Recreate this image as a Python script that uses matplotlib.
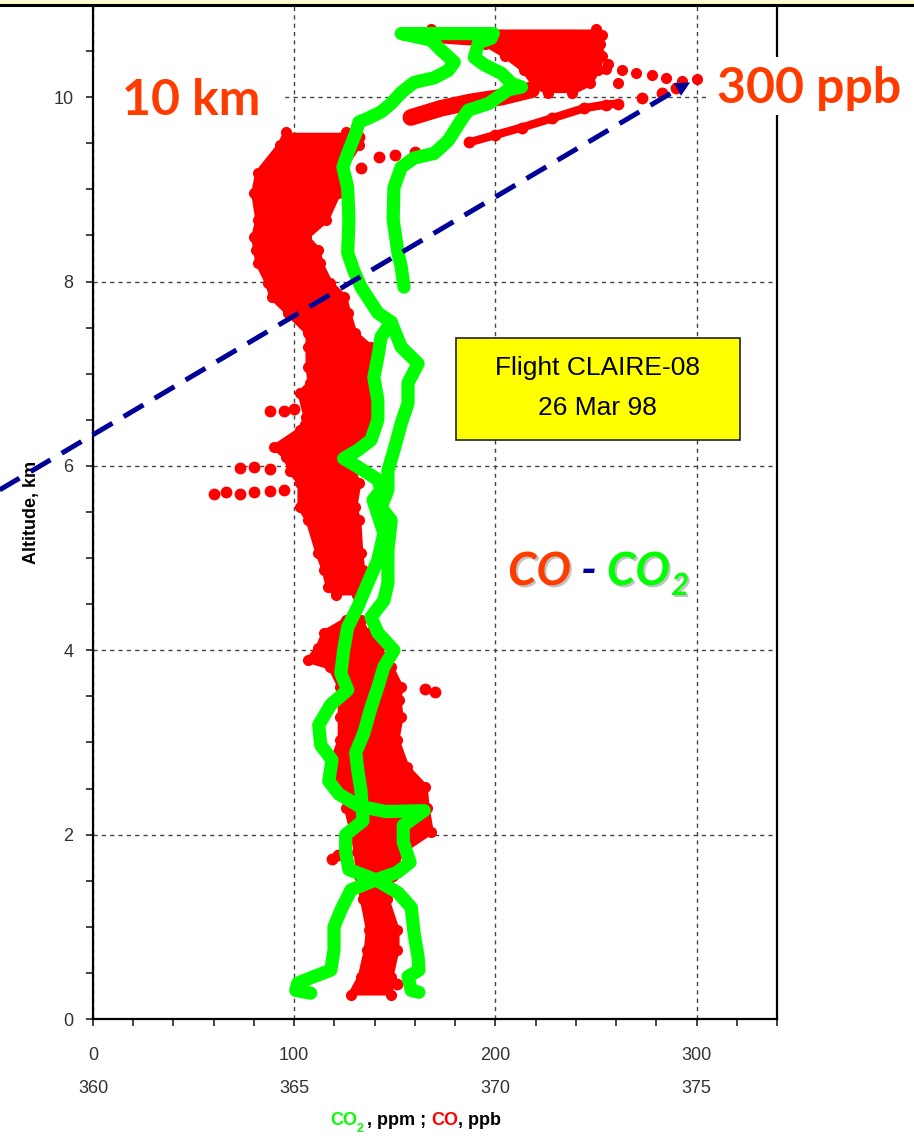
import matplotlib
matplotlib.use("Agg")
import matplotlib.pyplot as plt
from matplotlib.patches import Rectangle
from matplotlib.lines import Line2D
from matplotlib.ticker import MultipleLocator, FixedLocator
from matplotlib import patheffects as pe

# ---------------- data ----------------
# CO (ppb): dense red band, upper part (altitude km, left edge, right edge)
co_up_alt = [9.62, 9.48, 9.18, 8.96, 8.67, 8.48, 8.34, 8.20, 7.98, 7.83, 7.66, 7.44, 7.29, 7.07,
             6.90, 6.79, 6.53, 6.39, 6.20, 6.10, 5.95, 5.81, 5.55, 5.41, 5.05, 4.87, 4.69, 4.60]
co_up_left = [96, 93, 82, 80, 82, 80, 81, 82, 87, 89, 97, 107, 107, 107,
              108, 103, 106, 103, 90, 96, 98, 103, 103, 107, 112, 115, 117, 121]
co_up_right = [126, 132, 123, 122, 116, 106, 112, 113, 118, 125, 127, 130, 138, 140,
               137, 137, 138, 136, 133, 128, 129, 132, 130, 132, 133, 134, 133, 131]
# lower part
co_lo_alt = [4.33, 4.19, 4.03, 3.89, 3.82, 3.60, 3.46, 3.28, 3.03, 2.73, 2.52, 2.29, 2.03, 1.81,
             1.55, 1.30, 0.97, 0.75, 0.46, 0.26]
co_lo_left = [126, 115, 112, 107, 118, 123, 123, 123, 123, 118, 123, 126, 129, 131,
              132, 134, 137, 136, 133, 128]
co_lo_right = [133, 136, 142, 146, 148, 153, 152, 153, 151, 156, 165, 166, 168, 153,
               149, 146, 151, 151, 148, 148]
# top cluster near 10.1 - 10.7 km
co_top_alt = [10.74, 10.62, 10.58, 10.45, 10.30, 10.15, 10.05]
co_top_left = [168, 168, 195, 205, 214, 219, 226]
co_top_right = [250, 250, 252, 253, 251, 247, 238]
# streaks rising toward the 300 ppb spike
co_streak1 = [158, 173, 188, 203, 218]
alt_streak1 = [9.78, 9.88, 9.95, 10.00, 10.08]
co_streak2 = [142, 150, 160, 173, 187, 200, 213, 228, 244, 255, 261, 273, 283, 290]
alt_streak2 = [9.35, 9.37, 9.40, 9.46, 9.51, 9.59, 9.67, 9.77, 9.88, 9.92, 9.93, 9.99, 10.05, 10.10]
co_spike = [255, 263, 270, 278, 285, 293, 300, 261, 256, 253]
alt_spike = [10.31, 10.29, 10.26, 10.24, 10.21, 10.18, 10.20, 10.15, 10.36, 10.67]
# isolated points
co_out = [88, 95, 100, 73, 80, 88, 60, 66, 73, 80, 88, 95, 165, 170, 119, 122, 151, 132, 133]
alt_out = [6.60, 6.60, 6.62, 5.98, 5.99, 5.97, 5.70, 5.72, 5.70, 5.72, 5.73, 5.74, 3.58, 3.55,
           1.74, 1.78, 0.38, 9.57, 9.23]

# CO2 (ppm): two profiles
co2_a_ppm = [369.95, 367.66, 368.40, 368.65, 368.98, 368.83, 368.48, 367.98, 367.66, 367.41,
             367.16, 366.83, 366.61, 366.53, 366.33, 366.21, 366.33, 366.36, 366.33, 366.48,
             366.66, 367.08, 367.41, 367.16, 367.08, 366.98, 367.08, 367.08, 366.91, 366.58,
             366.23, 366.58, 367.08, 367.16, 366.96, 367.23, 367.08, 366.83, 366.58, 366.33,
             366.23, 366.16, 366.33, 365.91, 365.61, 365.66, 365.94, 365.86, 366.11, 366.61,
             367.28, 368.23, 367.71, 367.71, 367.88, 367.56, 367.03, 366.41, 366.16, 365.99,
             365.99, 365.91, 365.49, 365.09, 365.04, 365.41]
co2_a_alt = [10.69, 10.69, 10.62, 10.51, 10.38, 10.29, 10.21, 10.16, 10.05, 9.93,
             9.84, 9.77, 9.73, 9.61, 9.39, 9.24, 9.02, 8.67, 8.31, 8.12,
             7.94, 7.66, 7.56, 7.40, 7.18, 6.96, 6.71, 6.50, 6.28, 6.17,
             6.08, 5.99, 5.85, 5.74, 5.63, 5.27, 4.98, 4.73, 4.47, 4.25,
             4.00, 3.75, 3.57, 3.41, 3.19, 2.97, 2.81, 2.58, 2.44, 2.31,
             2.25, 2.26, 2.10, 1.92, 1.70, 1.59, 1.51, 1.40, 1.18, 1.00,
             0.75, 0.53, 0.46, 0.39, 0.31, 0.28]
co2_b_ppm = [369.90, 369.58, 369.48, 369.73, 370.15, 370.40, 370.65, 370.32, 369.83, 369.33,
             369.15, 368.83, 368.48, 367.98, 367.66, 367.48, 367.46, 367.58, 367.66, 367.73,
             float("nan"),
             367.41, 367.66, 368.08, 367.83, 367.83, 367.66, 367.48, 367.33, 367.33, 367.16,
             367.41, 367.33, 367.33, 367.23, 366.91, 367.08, 367.48, 367.23, 367.08, 366.91,
             366.73, 366.53, 366.58, 366.66, 366.71, 366.28, 366.28, 366.36, 367.03, 367.58,
             367.91, 367.98, 368.08, 368.10, 367.83, 367.91, 368.10]
co2_b_alt = [10.64, 10.59, 10.43, 10.35, 10.26, 10.15, 10.11, 10.08, 9.93, 9.86,
             9.75, 9.53, 9.39, 9.34, 9.24, 9.02, 8.67, 8.31, 8.16, 7.94,
             float("nan"),
             7.56, 7.29, 7.11, 6.90, 6.68, 6.46, 6.17, 5.95, 5.74, 5.55,
             5.41, 5.09, 4.73, 4.54, 4.36, 4.19, 4.00, 3.82, 3.60, 3.38,
             3.10, 2.89, 2.70, 2.48, 2.15, 2.00, 1.81, 1.62, 1.51, 1.37,
             1.21, 0.93, 0.67, 0.53, 0.46, 0.31, 0.29]

co_ticks = [0, 100, 200, 300]
co2_ticks = [360, 365, 370, 375]
alt_ticks = [0, 2, 4, 6, 8, 10]
PPB_PER_PPM = 20.0
CO2_AT_ZERO = 360.0

ARROW_START = (-46.4, 5.74)
ARROW_END = (296.8, 10.16)

# ---------------- styles ----------------
RED = "#FF0000"
GREEN = "#00FF00"
ORANGE = "#FF3C00"
NAVY = "#000099"

plt.rcParams["font.family"] = ["Liberation Sans", "DejaVu Sans"]

fig = plt.figure(figsize=(9.14, 11.38), dpi=100)
W, H = 914.0, 1138.0
ax = fig.add_axes([93 / W, 1 - 1019 / H, 684 / W, 1014 / H])
ax.set_xlim(0, 340)
ax.set_ylim(0, 11)
ax.set_axisbelow(True)

# top strip of the slide
fig.patches.append(Rectangle((0, 1 - 4 / H), 1, 4 / H, transform=fig.transFigure,
                             facecolor="#FFFBD0", edgecolor="none", zorder=0))
fig.add_artist(Line2D([0, 1], [1 - 5 / H, 1 - 5 / H], transform=fig.transFigure,
                      color="black", lw=2.2, zorder=5))

for s in ["left", "bottom", "right"]:
    ax.spines[s].set_linewidth(1.6)
ax.spines["top"].set_visible(False)

ax.xaxis.set_major_locator(FixedLocator(co_ticks))
ax.xaxis.set_minor_locator(MultipleLocator(20))
ax.yaxis.set_major_locator(FixedLocator(alt_ticks))
ax.yaxis.set_minor_locator(MultipleLocator(0.5))
ax.tick_params(which="both", direction="out", length=5, width=1.2, color="#222")
ax.tick_params(axis="x", which="major", pad=15, labelsize=13, labelcolor="#333")
ax.tick_params(axis="y", which="major", pad=9, labelsize=13, labelcolor="#333")

ax.grid(True, which="major", ls=(0, (3, 3)), color="#444444", lw=1.0)

sec = ax.secondary_xaxis("bottom",
                         functions=(lambda x: CO2_AT_ZERO + x / PPB_PER_PPM,
                                    lambda p: (p - CO2_AT_ZERO) * PPB_PER_PPM))
sec.set_xticks(co2_ticks)
sec.tick_params(length=0, pad=44, labelsize=13, labelcolor="#333")
sec.spines["bottom"].set_visible(False)

ax.set_ylabel("Altitude, km", fontweight="bold", fontsize=13, labelpad=10)

# white boxes hiding grid behind annotations
ax.add_patch(Rectangle((0.0, 0.880), 0.275, 0.058, transform=ax.transAxes,
                       facecolor="white", edgecolor="none", zorder=0.8))
ax.add_patch(Rectangle((0.591, 0.411), 0.285, 0.079, transform=ax.transAxes,
                       facecolor="white", edgecolor="none", zorder=0.8))

# ---------------- CO (red) ----------------
for alts, lefts, rights in [(co_up_alt, co_up_left, co_up_right),
                            (co_lo_alt, co_lo_left, co_lo_right),
                            (co_top_alt, co_top_left, co_top_right)]:
    ax.fill_betweenx(alts, lefts, rights, color=RED, lw=0, zorder=1)
    ax.plot(lefts, alts, color=RED, lw=4, marker="o", ms=7, solid_joinstyle="round", zorder=1.2)
    ax.plot(rights, alts, color=RED, lw=4, marker="o", ms=7, solid_joinstyle="round", zorder=1.2)

ax.plot(co_streak1, alt_streak1, color=RED, lw=12, solid_capstyle="round", zorder=1.2)
ax.plot(co_streak2[4:11], alt_streak2[4:11], color=RED, lw=6, solid_capstyle="round", zorder=1.2)
ax.plot(co_streak2, alt_streak2, ls="none", marker="o", ms=7.5, color=RED, zorder=1.2)
ax.plot(co_spike, alt_spike, ls="none", marker="o", ms=7, color=RED, zorder=1.2)
ax.plot(co_out, alt_out, ls="none", marker="o", ms=7.5, color=RED, zorder=1.2)

# ---------------- CO2 (green) on a twin x scale ----------------
ax2 = ax.twiny()
ax2.set_xlim(CO2_AT_ZERO, CO2_AT_ZERO + 340 / PPB_PER_PPM)
ax2.set_axis_off()
ax2.plot(co2_a_ppm, co2_a_alt, color=GREEN, lw=9.5, solid_joinstyle="round",
         solid_capstyle="round")
ax2.plot(co2_b_ppm, co2_b_alt, color=GREEN, lw=9.5, solid_joinstyle="round",
         solid_capstyle="round")

# ---------------- dashed arrow ----------------
head_base = (ARROW_END[0] - 9.0, ARROW_END[1] - 0.11)
ax2.plot([ARROW_START[0], head_base[0]], [ARROW_START[1], head_base[1]],
         transform=ax.transData, color=NAVY, lw=3.6, ls=(0, (4.6, 2.6)), clip_on=False,
         zorder=6)
ax2.annotate("", xy=ARROW_END, xytext=head_base, xycoords=ax.transData,
             textcoords=ax.transData, annotation_clip=False,
             arrowprops=dict(arrowstyle="-|>", color=NAVY, lw=0, mutation_scale=26,
                             shrinkA=0, shrinkB=0), zorder=6)

# ---------------- texts ----------------
big = dict(family=["Lato", "DejaVu Sans"], fontweight="bold", fontsize=36, color=ORANGE)
fig.text(191 / W, 1 - 115 / H, "10 km", ha="center", va="baseline", zorder=7, **big)
fig.patches.append(Rectangle((708 / W, 1 - 115 / H), 200 / W, 58 / H, transform=fig.transFigure,
                             facecolor="white", edgecolor="none", zorder=6))
fig.text(809 / W, 1 - 103 / H, "300 ppb", ha="center", va="baseline", zorder=7, **big)

# yellow box
ax2.add_patch(Rectangle((0.531, 0.571), 0.415, 0.101, transform=ax.transAxes,
                        facecolor="#FFFF00", edgecolor="#222", lw=1.2, zorder=4))
ax2.text(0.738, 0.642, "Flight CLAIRE-08", transform=ax.transAxes, ha="center", va="center",
         fontsize=19, zorder=5)
ax2.text(0.738, 0.603, "26 Mar 98", transform=ax.transAxes, ha="center", va="center",
         fontsize=19, zorder=5)

# CO - CO2 label
shadow = [pe.withSimplePatchShadow(offset=(1.5, -1.5), shadow_rgbFace="#888888", alpha=0.5)]
lab = dict(family=["Lato", "DejaVu Sans"], fontstyle="italic", fontsize=33, fontweight="bold")
t1 = fig.text(508 / W, 1 - 585 / H, "CO", color=ORANGE, va="baseline", path_effects=shadow, **lab)
t2 = ax2.annotate(" - ", xy=(1, 0), xycoords=t1, va="bottom", ha="left", color=NAVY,
                  annotation_clip=False, **lab)
t3 = ax2.annotate("CO", xy=(1, 0), xycoords=t2, va="bottom", ha="left", color=GREEN,
                  annotation_clip=False, path_effects=shadow, **lab)
lab_sub = dict(lab)
lab_sub["fontsize"] = 22
ax2.annotate("2", xy=(1, 0), xycoords=t3, xytext=(1, -5), textcoords="offset points",
             va="bottom", ha="left", color=GREEN, annotation_clip=False,
             path_effects=shadow, **lab_sub)

# x-axis label with coloured parts
xl = dict(fontsize=13, fontweight="bold")
x1 = fig.text(330 / W, 1 - 1125 / H, "CO", color=GREEN, va="baseline", **xl)
x2 = ax2.annotate("2", xy=(1, 0), xycoords=x1, xytext=(0, -4), textcoords="offset points",
                  va="bottom", ha="left", color=GREEN, fontsize=9, fontweight="bold",
                  annotation_clip=False)
x3 = ax2.annotate(", ppm ; ", xy=(1, 0), xycoords=x1, xytext=(7, 0), textcoords="offset points",
                  va="bottom", ha="left", color="black", annotation_clip=False, **xl)
x4 = ax2.annotate("CO", xy=(1, 0), xycoords=x3, va="bottom", ha="left", color=RED,
                  annotation_clip=False, **xl)
ax2.annotate(", ppb", xy=(1, 0), xycoords=x4, va="bottom", ha="left", color="black",
             annotation_clip=False, **xl)

fig.savefig("out.png", dpi=100)
